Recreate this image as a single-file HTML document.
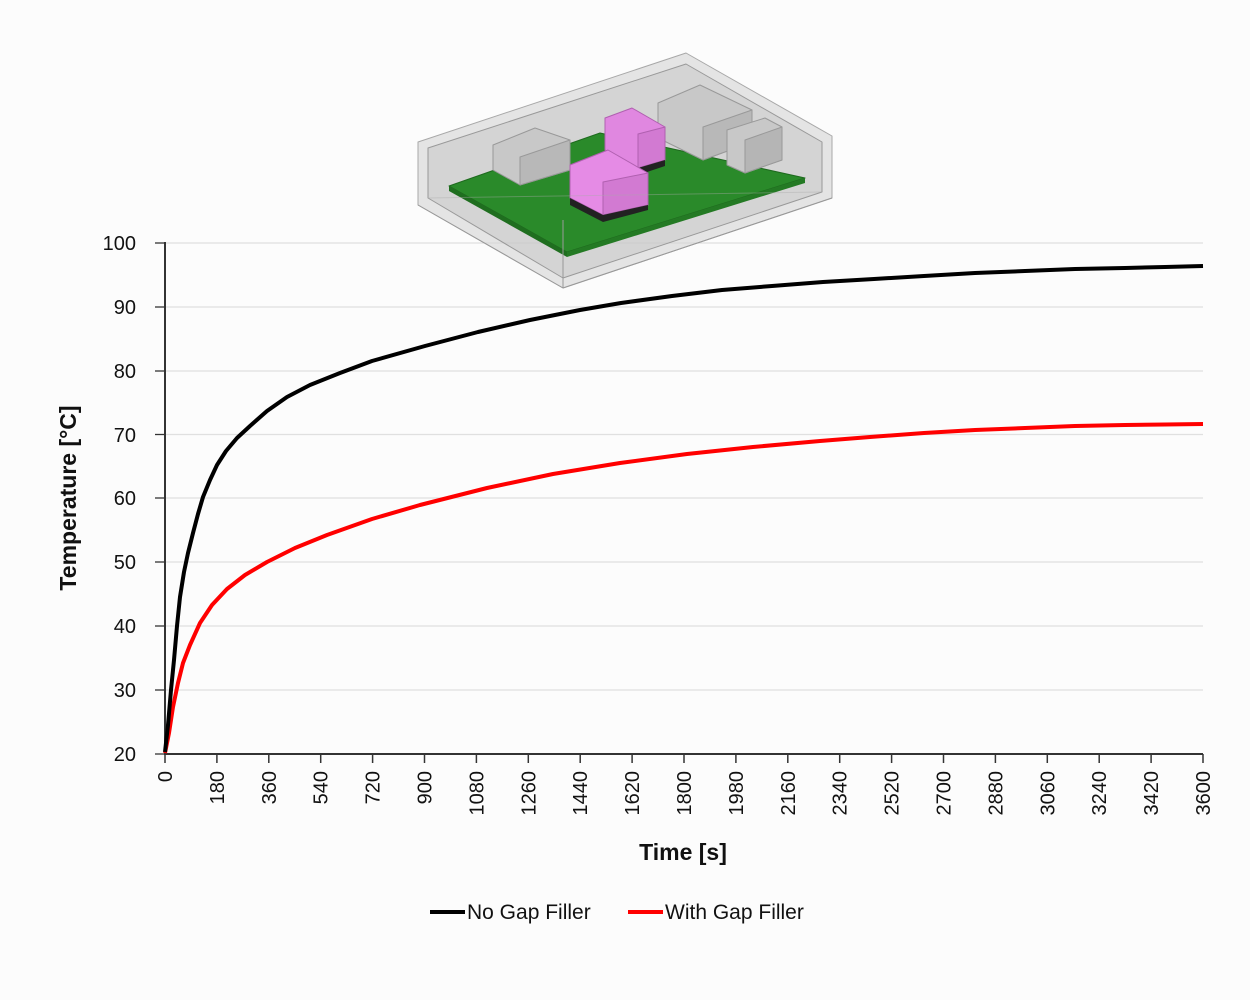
<!DOCTYPE html>
<html><head><meta charset="utf-8"><style>
body{margin:0;background:#fcfcfc;}
svg{display:block;font-family:"Liberation Sans",sans-serif;}
</style></head><body>
<svg width="1250" height="1000" viewBox="0 0 1250 1000">
<rect width="1250" height="1000" fill="#fcfcfc"/>
<g stroke="#e0e0e0" stroke-width="1.3">
<line x1="165" y1="243" x2="1203" y2="243"/>
<line x1="165" y1="307" x2="1203" y2="307"/>
<line x1="165" y1="371" x2="1203" y2="371"/>
<line x1="165" y1="434.5" x2="1203" y2="434.5"/>
<line x1="165" y1="498" x2="1203" y2="498"/>
<line x1="165" y1="562" x2="1203" y2="562"/>
<line x1="165" y1="626" x2="1203" y2="626"/>
<line x1="165" y1="690" x2="1203" y2="690"/>
</g>
<g stroke-linejoin="round">
<polygon points="418,142 686,53 832,136 832,198 563,288 418,205" fill="#d4d4d4" fill-opacity="0.6" stroke="#a8a8a8"/>
<polygon points="428,148 686,64 822,142 822,192 563,278 428,198" fill="#c4c4c4" fill-opacity="0.5" stroke="#999"/>
<polygon points="449,186 600,133 805,178 567,252" fill="#2a8a2a" stroke="#1e6a1e"/>
<polygon points="449,186 567,252 567,257 449,191" fill="#1f6e1f"/>
<polygon points="567,252 805,178 805,183 567,257" fill="#247a24"/>
<polygon points="493,145 535,128 570,140 570,170 520,185 493,170" fill="#c8c8c8" stroke="#999"/>
<polygon points="520,157 570,140 570,170 520,185" fill="#b8b8b8" stroke="#999"/>
<polygon points="658,103 700,85 752,110 752,142 703,160 658,138" fill="#c8c8c8" stroke="#999"/>
<polygon points="703,127 752,110 752,142 703,160" fill="#b8b8b8" stroke="#999"/>
<polygon points="727,130 765,118 782,127 782,160 745,173 727,165" fill="#c8c8c8" stroke="#999"/>
<polygon points="745,140 782,127 782,160 745,173" fill="#b5b5b5" stroke="#999"/>
<polygon points="605,118 632,108 665,127 665,160 638,168 605,150" fill="#e087e0" stroke="#b060b0"/>
<polygon points="638,134 665,127 665,160 638,168" fill="#d27ad2" stroke="#b060b0"/>
<polygon points="638,168 665,160 665,166 638,175" fill="#222"/>
<polygon points="570,165 608,150 648,173 648,205 603,215 570,198" fill="#e58be5" stroke="#b060b0"/>
<polygon points="603,182 648,173 648,205 603,215" fill="#d27ad2" stroke="#b060b0"/>
<polygon points="570,198 603,215 648,205 648,210 603,222 570,205" fill="#222"/>
<line x1="428" y1="198" x2="822" y2="192" stroke="#aaa" stroke-opacity="0.4"/>
<line x1="563" y1="220" x2="563" y2="288" stroke="#999"/>
<line x1="418" y1="205" x2="563" y2="288" stroke="#999"/>
<line x1="563" y1="288" x2="832" y2="198" stroke="#999"/>
</g>
<g stroke="#333" stroke-width="2" fill="none">
<line x1="165" y1="242" x2="165" y2="755"/>
<line x1="164" y1="754" x2="1203" y2="754"/>
</g>
<g stroke="#333" stroke-width="1.3">
<line x1="155" y1="243" x2="165" y2="243"/>
<line x1="155" y1="307" x2="165" y2="307"/>
<line x1="155" y1="371" x2="165" y2="371"/>
<line x1="155" y1="434.5" x2="165" y2="434.5"/>
<line x1="155" y1="498" x2="165" y2="498"/>
<line x1="155" y1="562" x2="165" y2="562"/>
<line x1="155" y1="626" x2="165" y2="626"/>
<line x1="155" y1="690" x2="165" y2="690"/>
<line x1="155" y1="754" x2="165" y2="754"/>
</g>
<g stroke="#333" stroke-width="1.5">
<line x1="165" y1="754" x2="165" y2="763"/>
<line x1="216.9" y1="754" x2="216.9" y2="763"/>
<line x1="268.8" y1="754" x2="268.8" y2="763"/>
<line x1="320.7" y1="754" x2="320.7" y2="763"/>
<line x1="372.6" y1="754" x2="372.6" y2="763"/>
<line x1="424.5" y1="754" x2="424.5" y2="763"/>
<line x1="476.4" y1="754" x2="476.4" y2="763"/>
<line x1="528.3" y1="754" x2="528.3" y2="763"/>
<line x1="580.2" y1="754" x2="580.2" y2="763"/>
<line x1="632.1" y1="754" x2="632.1" y2="763"/>
<line x1="684" y1="754" x2="684" y2="763"/>
<line x1="735.9" y1="754" x2="735.9" y2="763"/>
<line x1="787.8" y1="754" x2="787.8" y2="763"/>
<line x1="839.7" y1="754" x2="839.7" y2="763"/>
<line x1="891.6" y1="754" x2="891.6" y2="763"/>
<line x1="943.5" y1="754" x2="943.5" y2="763"/>
<line x1="995.4" y1="754" x2="995.4" y2="763"/>
<line x1="1047.3" y1="754" x2="1047.3" y2="763"/>
<line x1="1099.2" y1="754" x2="1099.2" y2="763"/>
<line x1="1151.1" y1="754" x2="1151.1" y2="763"/>
<line x1="1203" y1="754" x2="1203" y2="763"/>
</g>
<g font-size="20" fill="#111" text-anchor="end">
<text x="136" y="250">100</text><text x="136" y="314">90</text><text x="136" y="378">80</text>
<text x="136" y="442">70</text><text x="136" y="505">60</text><text x="136" y="569">50</text>
<text x="136" y="633">40</text><text x="136" y="697">30</text><text x="136" y="761">20</text>
</g>
<g font-size="20" fill="#111" text-anchor="end">
<text transform="translate(172,771) rotate(-90)">0</text>
<text transform="translate(223.9,771) rotate(-90)">180</text>
<text transform="translate(275.8,771) rotate(-90)">360</text>
<text transform="translate(327.7,771) rotate(-90)">540</text>
<text transform="translate(379.6,771) rotate(-90)">720</text>
<text transform="translate(431.5,771) rotate(-90)">900</text>
<text transform="translate(483.4,771) rotate(-90)">1080</text>
<text transform="translate(535.3,771) rotate(-90)">1260</text>
<text transform="translate(587.2,771) rotate(-90)">1440</text>
<text transform="translate(639.1,771) rotate(-90)">1620</text>
<text transform="translate(691,771) rotate(-90)">1800</text>
<text transform="translate(742.9,771) rotate(-90)">1980</text>
<text transform="translate(794.8,771) rotate(-90)">2160</text>
<text transform="translate(846.7,771) rotate(-90)">2340</text>
<text transform="translate(898.6,771) rotate(-90)">2520</text>
<text transform="translate(950.5,771) rotate(-90)">2700</text>
<text transform="translate(1002.4,771) rotate(-90)">2880</text>
<text transform="translate(1054.3,771) rotate(-90)">3060</text>
<text transform="translate(1106.2,771) rotate(-90)">3240</text>
<text transform="translate(1158.1,771) rotate(-90)">3420</text>
<text transform="translate(1210,771) rotate(-90)">3600</text>
</g>
<text x="0" y="0" transform="translate(76,498) rotate(-90)" font-size="23" font-weight="bold" text-anchor="middle" fill="#111">Temperature [°C]</text>
<text x="683" y="860" font-size="23" font-weight="bold" text-anchor="middle" fill="#111">Time [s]</text>
<line x1="430" y1="912" x2="465" y2="912" stroke="#000" stroke-width="4"/>
<text x="467" y="919" font-size="21" fill="#111">No Gap Filler</text>
<line x1="628" y1="912" x2="663" y2="912" stroke="#f00" stroke-width="4"/>
<text x="665" y="919" font-size="21" fill="#111">With Gap Filler</text>
<polyline fill="none" stroke="#f00" stroke-width="4" stroke-linejoin="round" points="165,753 169,733 173,707 178,683 183,663 190,645 200,623 212,605 227,589 245,575 267,562 295,548 327,535 372,519 420,505 487,488 553,474 620,463 687,454 753,447 820,441 870,437 924,433 975,430 1025,428 1075,426 1125,425 1165,424.5 1203,424"/>
<polyline fill="none" stroke="#000" stroke-width="4" stroke-linejoin="round" points="165,752 168,725 171,690 174,660 177,626 180,597 184,572 188,553 193,533 198,514 203,497 210,480 217,465 226,451 237,438 250,426 267,411 287,397 310,385 340,373 372,361 425,346 478,332 530,320 580,310 621,303 672,296 722,290 772,286 823,282 874,279 924,276 975,273 1025,271 1075,269 1125,268 1165,267 1203,266"/>
</svg>
</body></html>
